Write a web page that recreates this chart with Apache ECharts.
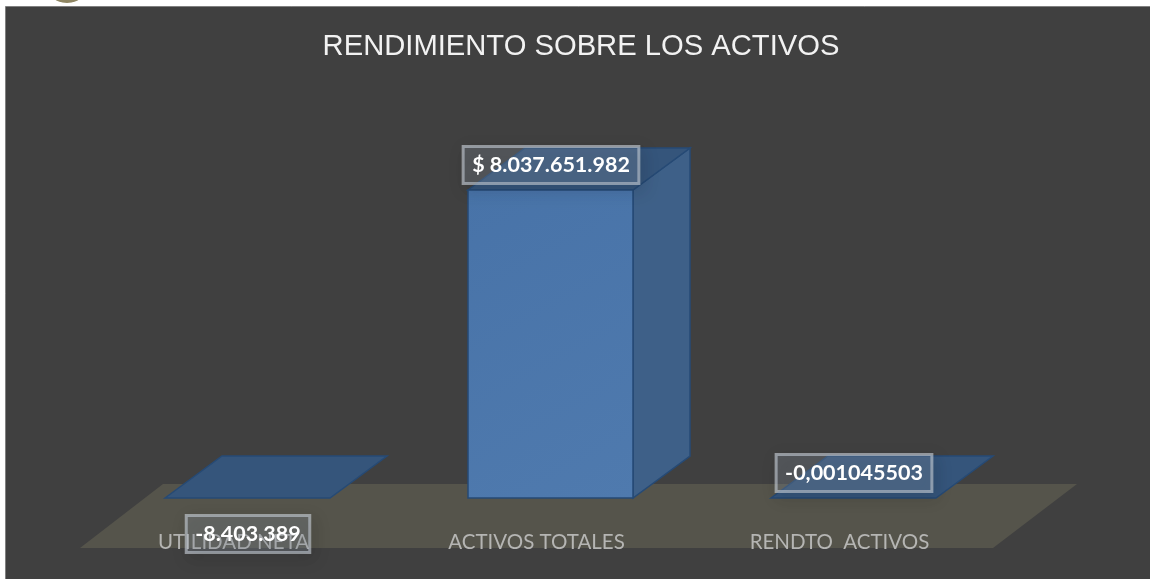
<!DOCTYPE html>
<html>
<head>
<meta charset="utf-8">
<style>html,body{margin:0;padding:0;background:#fff}#c{width:1150px;height:579px}</style>
<script src="https://cdn.jsdelivr.net/npm/echarts@6/dist/echarts.min.js"></script>
</head>
<body>
<div id="c"></div>
<script>
const categories = ['UTILIDAD NETA', 'ACTIVOS TOTALES', 'RENDTO  ACTIVOS'];
const values = [-8403389, 8037651982, -0.001045503];
const valueLabels = ['-8.403.389', '$ 8.037.651.982', '-0,001045503'];
const chartTitle = 'RENDIMIENTO SOBRE LOS ACTIVOS';

const DX = 57, DY = 42, SHIFT = 14, BAR_W = 165;
const chart = echarts.init(document.getElementById('c'), null, {renderer: 'canvas'});

function renderFloor(params, api) {
  const s = params.coordSys;
  const front = s.y + s.height + 50, back = s.y + s.height - 14, skew = 83;
  const l = s.x - 2, r = s.x + s.width + 2;
  return {
    type: 'polygon',
    shape: {points: [[l, front], [l + skew, back], [r + skew + 1, back], [r, front]]},
    style: {fill: '#55544b'}
  };
}

function renderBar(params, api) {
  const c = api.coord([api.value(0), api.value(1)]);
  const base = api.coord([api.value(0), 0]);
  const xl = base[0] + SHIFT - BAR_W / 2, xr = xl + BAR_W;
  const yb = base[1];
  const yt = Math.min(c[1], yb);
  const edge = '#264a75';
  const tall = yb - yt > 2;
  const kids = [];
  if (tall) {
    kids.push({
      type: 'polygon',
      shape: {points: [[xr, yt], [xr + DX, yt - DY], [xr + DX, yb - DY], [xr, yb]]},
      style: {fill: '#3e6088', stroke: edge, lineWidth: 1.5}
    });
  }
  kids.push({
    type: 'polygon',
    shape: {points: [[xl, yt], [xl + DX, yt - DY], [xr + DX, yt - DY], [xr, yt]]},
    style: {fill: '#35557b', stroke: edge, lineWidth: 1.5}
  });
  if (tall) {
    kids.push({
      type: 'rect',
      shape: {x: xl, y: yt, width: BAR_W, height: yb - yt},
      style: {
        fill: new echarts.graphic.LinearGradient(0, 0, 1, 1, [
          {offset: 0, color: '#4873a8'},
          {offset: 1, color: '#4f7aae'}
        ]),
        stroke: edge, lineWidth: 1.5
      }
    });
  }
  return {type: 'group', children: kids};
}

function renderLabel(params, api) {
  const i = params.dataIndex;
  const base = api.coord([api.value(0), 0]);
  const top = api.coord([api.value(0), Math.max(api.value(1), 0)]);
  const cx = base[0] + SHIFT + 0.5;
  const cy = categories[i] === 'UTILIDAD NETA' ? base[1] + 36 : top[1] - 25;
  return {
    type: 'text',
    x: cx, y: cy,
    style: {
      text: valueLabels[i],
      fill: '#ffffff',
      font: 'bold 21.5px Lato',
      align: 'center',
      verticalAlign: 'middle',
      backgroundColor: 'rgba(160,175,190,0.22)',
      borderColor: 'rgba(205,212,220,0.62)',
      borderWidth: 1.5,
      padding: [8, 9, 7, 9],
      shadowColor: 'rgba(0,0,0,0.35)',
      shadowBlur: 16,
      shadowOffsetX: 3,
      shadowOffsetY: 5
    }
  };
}

const barData = categories.map((c, i) => [c, values[i]]);

chart.setOption({
  animation: false,
  backgroundColor: '#ffffff',
  title: {
    text: chartTitle, left: 576, top: 27, textAlign: 'center',
    textStyle: {color: '#f2f2f2', fontFamily: 'Liberation Sans', fontSize: 29.2, fontWeight: 'normal'}
  },
  graphic: [
    {type: 'circle', shape: {cx: 67, cy: -20, r: 23}, style: {fill: '#8f8663'}, silent: true},
    {type: 'rect', shape: {x: 5.5, y: 6.5, width: 1150, height: 580},
     style: {fill: '#404040', stroke: '#808080', lineWidth: 1}, silent: true}
  ],
  grid: {left: 82, width: 909, top: 190, height: 308},
  xAxis: {
    type: 'category', data: categories, z: 5,
    axisLine: {show: false}, axisTick: {show: false},
    axisLabel: {color: '#b5b5b3', fontFamily: 'Lato', fontSize: 20.5, margin: 34, interval: 0}
  },
  yAxis: {
    type: 'value', min: 0, max: Math.max(...values), show: false, splitLine: {show: false}
  },
  series: [
    {type: 'custom', z: 1, clip: false, silent: true, data: [barData[0]], renderItem: renderFloor},
    {type: 'custom', z: 2, clip: false, silent: true, data: barData, renderItem: renderBar},
    {type: 'custom', z: 7, clip: false, silent: true, data: barData, renderItem: renderLabel}
  ]
});
</script>
</body>
</html>
